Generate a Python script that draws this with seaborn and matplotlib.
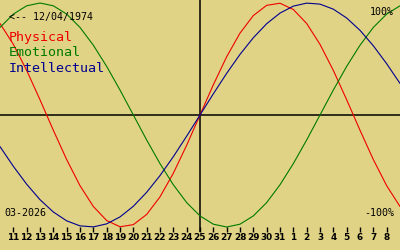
import numpy as np
import pandas as pd
import matplotlib
matplotlib.use("Agg")
import matplotlib.pyplot as plt
import seaborn as sns

# Day offsets relative to the centre day (25 March 2026)
offsets = list(range(-15, 16))
physical = [0.817, 0.631, 0.398, 0.136, -0.136, -0.398, -0.631, -0.817, -0.942, -0.998,
            -0.979, -0.888, -0.731, -0.520, -0.270, 0.0, 0.270, 0.520, 0.731, 0.888,
            0.979, 0.998, 0.942, 0.817, 0.631, 0.398, 0.136, -0.136, -0.398, -0.631, -0.817]
emotional = [0.782, 0.901, 0.975, 1.0, 0.975, 0.901, 0.782, 0.623, 0.434, 0.223,
             0.0, -0.223, -0.434, -0.623, -0.782, -0.901, -0.975, -1.0, -0.975, -0.901,
             -0.782, -0.623, -0.434, -0.223, 0.0, 0.223, 0.434, 0.623, 0.782, 0.901, 0.975]
intellectual = [-0.282, -0.458, -0.618, -0.756, -0.866, -0.945, -0.990, -0.999, -0.972, -0.910,
                -0.815, -0.690, -0.541, -0.372, -0.189, 0.0, 0.189, 0.372, 0.541, 0.690,
                0.815, 0.910, 0.972, 0.999, 0.990, 0.945, 0.866, 0.756, 0.618, 0.458, 0.282]

tick_offsets = list(range(-14, 15))
tick_labels = ["11", "12", "13", "14", "15", "16", "17", "18", "19", "20", "21", "22", "23",
               "24", "25", "26", "27", "28", "29", "30", "31", "1", "2", "3", "4", "5", "6",
               "7", "8"]

series_names = ["Physical", "Emotional", "Intellectual"]
series_colors = ["#ee0000", "#007a00", "#000090"]
birth_label = "<-- 12/04/1974"
month_label = "03-2026"

bg = "#e1d385"

sns.set_theme(style="white", rc={"axes.facecolor": bg, "figure.facecolor": bg})
mono = ["DejaVu Sans Mono", "DejaVu Sans"]
narrow = ["Liberation Sans Narrow", "DejaVu Sans"]

df = pd.DataFrame({
    "offset": offsets * 3,
    "value": physical + emotional + intellectual,
    "series": [series_names[0]] * len(offsets) + [series_names[1]] * len(offsets)
              + [series_names[2]] * len(offsets),
})

fig = plt.figure(figsize=(4, 2.5), dpi=100)
ax = fig.add_axes([0, 0, 1, 1])
ax.set_facecolor(bg)

ax.set_xlim(-15, 15)
ax.set_ylim(-1.2054, 1.0268)

# axes lines
ax.axhline(0, color="black", lw=1.1, zorder=1)
ax.vlines([0], -1.045, 1.0268, color="black", lw=1.1, zorder=1)

sns.lineplot(data=df, x="offset", y="value", hue="series", palette=series_colors,
             hue_order=series_names, legend=False, ax=ax, linewidth=0.8,
             estimator=None, sort=False, zorder=2)

ax.set_xlim(-15, 15)
ax.set_ylim(-1.2054, 1.0268)
ax.set_xticks([])
ax.set_yticks([])
ax.set_xlabel("")
ax.set_ylabel("")
for s in ax.spines.values():
    s.set_visible(False)

# day ticks along the bottom
ax.vlines(tick_offsets, -1.0, -1.045, color="black", lw=1.0)
for x, lab in zip(tick_offsets, tick_labels):
    ax.text(x, -1.095, lab, ha="center", va="center", fontsize=6.4,
            fontweight="bold", color="black", family=narrow)

# labels
def px(x, y):
    return x / 400, 1 - y / 250

ax.text(*px(9, 17), birth_label, transform=ax.transAxes, ha="left", va="center",
        fontsize=7.2, family=mono, color="black")
for name, col, y in zip(series_names, series_colors, [37, 53, 68]):
    ax.text(*px(9, y), name, transform=ax.transAxes, ha="left", va="center",
            fontsize=9.6, family=mono, color=col)
ax.text(*px(394, 12), "100%", transform=ax.transAxes, ha="right", va="center",
        fontsize=7.2, family=mono, color="black")
ax.text(*px(394, 213), "-100%", transform=ax.transAxes, ha="right", va="center",
        fontsize=7.2, family=mono, color="black")
ax.text(*px(4, 213), month_label, transform=ax.transAxes, ha="left", va="center",
        fontsize=7.2, family=mono, color="black")

fig.savefig("out.png", dpi=100, facecolor=bg)
